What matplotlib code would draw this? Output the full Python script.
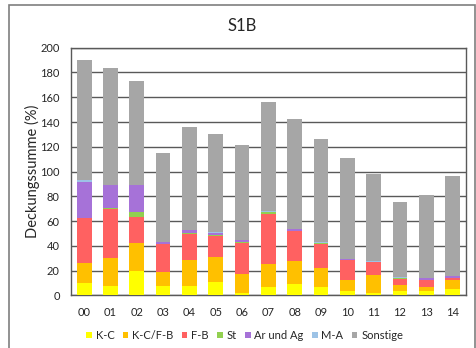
import matplotlib
matplotlib.use("Agg")
import matplotlib.pyplot as plt
import numpy as np
from matplotlib.patches import Rectangle

plt.rcParams['font.family'] = ['Lato', 'DejaVu Sans']

# data
plots = ["00", "01", "02", "03", "04", "05", "06", "07", "08", "09",
         "10", "11", "12", "13", "14"]
k_c = [10, 8, 20, 7.8, 7.3, 10.8, 2.4, 6.5, 9.1, 7, 3.8, 1.9, 4, 3.8, 5.1]
k_c_f_b = [16, 22, 22.5, 11.2, 21.2, 20.4, 15.1, 19.3, 19.1, 15, 9.1, 15, 4.6, 3.2, 7.3]
f_b = [36.4, 40, 21, 22.4, 21.2, 17.2, 25, 40.3, 23.7, 19.7, 15.6, 10, 5.1, 5.6, 1.6]
st = [0.5, 0.5, 3.5, 0.3, 0.5, 0.5, 0.3, 1.2, 0.3, 0.3, 0.2, 0.2, 0.2, 0.2, 0.3]
ar_ag = [28.6, 18.7, 21.8, 1.6, 2.5, 1.9, 1.6, 0.3, 1.5, 0.7, 0.6, 0.3, 0.6, 1.5, 1.5]
m_a = [1.5, 0.3, 0.3, 0.2, 0.3, 0.3, 0.2, 0.2, 0.2, 0.2, 0.2, 0.2, 0.2, 0.2, 0.2]
sonstige = [97, 93.8, 83.7, 71.5, 83.3, 79.3, 77, 88.1, 88.3, 83.7, 81.8, 70.8, 61.1, 66.7, 80.8]

series = [("K-C", k_c, "#FFFF00"),
          ("K-C/F-B", k_c_f_b, "#FFC000"),
          ("F-B", f_b, "#FF6161"),
          ("St", st, "#92D050"),
          ("Ar und Ag", ar_ag, "#A672D8"),
          ("M-A", m_a, "#9DC3E6"),
          ("Sonstige", sonstige, "#A6A6A6")]

grid_clr = "#595959"
txt_clr = "#262626"

fig = plt.figure(figsize=(4.77, 3.48), dpi=100)
# outer chart frame
fig.patches.append(Rectangle((9 / 477, -0.05), 466 / 477, (343 + 17) / 348,
                             transform=fig.transFigure, fill=False,
                             edgecolor="#7F7F7F", linewidth=1.2))
ax = fig.add_axes([0.1488, 0.1509, 0.8275, 0.712])

x = np.arange(len(plots))
bottom = np.zeros(len(plots))
for name, vals, clr in series:
    ax.bar(x, vals, width=0.56, bottom=bottom, color=clr, label=name, zorder=3)
    bottom += np.array(vals)

ax.set_xlim(-0.5, len(plots) - 0.5)
ax.set_ylim(0, 200)
ax.set_yticks(range(0, 201, 20))
ax.set_xticks(x)
ax.set_xticklabels(plots)
ax.yaxis.grid(True, color=grid_clr, linewidth=1.0, zorder=0)
ax.set_axisbelow(True)
for s in ax.spines.values():
    s.set_color(grid_clr)
    s.set_linewidth(1.0)
ax.tick_params(length=0, labelsize=8, colors=txt_clr)
ax.tick_params(axis="y", pad=8)
ax.tick_params(axis="x", pad=8)
ax.set_ylabel("Deckungssumme (%)", fontsize=10.5, color=txt_clr)
ax.yaxis.set_label_coords(-0.078, 0.5)
fig.text(242 / 477, 1 - 25.7 / 348, "S1B", fontsize=12, color=txt_clr,
         ha="center", va="center")

ax.legend(loc="upper center", bbox_to_anchor=(0.44, -0.1), ncol=7,
          frameon=False, fontsize=8, handlelength=0.5, handleheight=0.5,
          handletextpad=0.35, columnspacing=0.75, labelcolor=txt_clr)

fig.savefig("out.png", dpi=100)
